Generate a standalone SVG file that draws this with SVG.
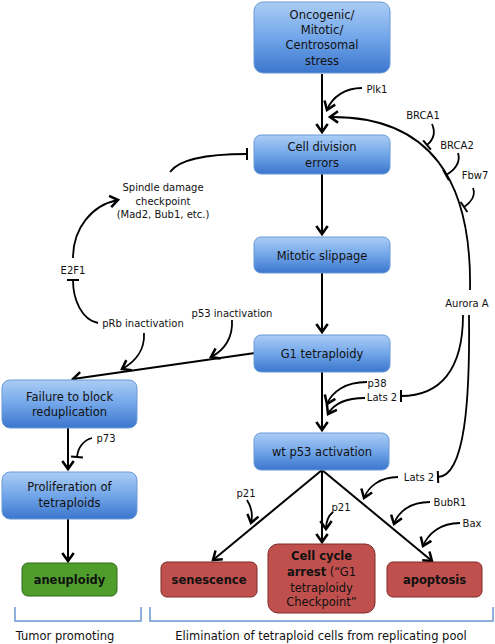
<svg xmlns="http://www.w3.org/2000/svg" width="495" height="644" viewBox="0 0 495 644">
<defs>
<linearGradient id="blue" x1="0" y1="0" x2="0" y2="1">
<stop offset="0" stop-color="#abcdf5"/>
<stop offset="0.5" stop-color="#72a6e9"/>
<stop offset="1" stop-color="#3b76cd"/>
</linearGradient>
<marker id="arr" markerUnits="userSpaceOnUse" orient="auto" refX="0" refY="0" markerWidth="16" markerHeight="16" viewBox="-9 -7 11 14" overflow="visible">
<path d="M -7 -5 L 0 0 L -7 5" fill="none" stroke="#000" stroke-width="2.2"/>
</marker>
<marker id="bar" markerUnits="userSpaceOnUse" orient="auto" refX="0" refY="0" markerWidth="14" markerHeight="14" viewBox="-4 -7 8 14" overflow="visible">
<path d="M 0 -6 L 0 6" fill="none" stroke="#000" stroke-width="2"/>
</marker>
</defs>
<style>
.bx{fill:url(#blue);stroke:#6a9ad6;stroke-width:1}
.red{fill:#c0504d;stroke:#7d2b27;stroke-width:1}
.grn{fill:#4f9e2c;stroke:#2e6b17;stroke-width:1}
text{font-family:"DejaVu Sans","Verdana",sans-serif;fill:#111}
.t{font-size:11.5px;text-anchor:middle}
.b{font-weight:bold}
.s{font-size:10px;text-anchor:middle}
.ln{fill:none;stroke:#000;stroke-width:2}
.cv{fill:none;stroke:#000;stroke-width:1.8}
.a{marker-end:url(#arr)}
.i{marker-end:url(#bar)}
.br{fill:none;stroke:#6b97cf;stroke-width:1.5}
</style>

<g id="connectors">
<path class="ln a" d="M 322 74 L 322 132"/>
<path class="ln a" d="M 322 174 L 322 234"/>
<path class="ln a" d="M 322 273 L 322 332"/>
<path class="ln a" d="M 322 372 L 322 430"/>
<path class="ln a" d="M 68 428 L 68 469"/>
<path class="ln a" d="M 68 519 L 68 561"/>
<path class="ln a" d="M 322 470 L 213 560"/>
<path class="ln a" d="M 322 470 L 322 542"/>
<path class="ln a" d="M 322 470 L 432 561"/>
<path class="ln a" d="M 255 353 L 73 379"/>
<path class="cv a" d="M 362 88 C 345 88 332 97 327 110"/>
<path class="cv a" d="M 470 290 C 472 180 430 116 330 117"/>
<path class="cv i" d="M 432 124 C 436 133 433 140 427 145"/>
<path class="cv i" d="M 458 153 C 461 162 455 170 446 175"/>
<path class="cv i" d="M 473 188 C 476 196 470 203 464 207"/>
<path class="cv i" d="M 463 315 C 463 370 440 396 401 396"/>
<path class="cv i" d="M 469 315 C 470 400 465 476 438 477"/>
<path class="cv a" d="M 367 382 C 345 382 332 392 327 404"/>
<path class="cv a" d="M 365 398 C 345 398 333 405 328 414"/>
<path class="cv i" d="M 92 438 C 84 440 78 447 77 457"/>
<path class="cv i" d="M 170 172 C 180 158 210 154 247 154"/>
<path class="cv a" d="M 73 258 C 73 228 92 205 118 200"/>
<path class="cv i" d="M 98 323 C 82 320 73 300 73 280"/>
<path class="cv a" d="M 144 333 C 145 350 135 362 122 369"/>
<path class="cv a" d="M 232 320 C 233 337 225 350 211 357"/>
<path class="cv a" d="M 247 500 C 252 508 253 515 251 523"/>
<path class="cv a" d="M 333 512 C 328 516 326 522 326 529"/>
<path class="cv a" d="M 398 477 C 380 477 368 487 364 498"/>
<path class="cv a" d="M 430 502 C 410 502 398 512 394 524"/>
<path class="cv a" d="M 460 523 C 440 523 428 534 423 546"/>
</g>

<g id="n-stress"><rect class="bx" x="254" y="2" width="136" height="71" rx="9"/>
<text class="t" x="322" y="19">Oncogenic/</text><text class="t" x="322" y="34">Mitotic/</text><text class="t" x="322" y="49">Centrosomal</text><text class="t" x="322" y="65">stress</text></g>
<g id="n-celldiv"><rect class="bx" x="254" y="135" width="136" height="39" rx="7"/>
<text class="t" x="322" y="151">Cell division</text><text class="t" x="322" y="167">errors</text></g>
<g id="n-slippage"><rect class="bx" x="254" y="237" width="136" height="36" rx="7"/>
<text class="t" x="322" y="260">Mitotic slippage</text></g>
<g id="n-g1"><rect class="bx" x="254" y="335" width="136" height="37" rx="7"/>
<text class="t" x="322" y="358">G1 tetraploidy</text></g>
<g id="n-p53"><rect class="bx" x="254" y="433" width="135" height="37" rx="7"/>
<text class="t" x="322" y="456">wt p53 activation</text></g>
<g id="n-failure"><rect class="bx" x="2" y="380" width="135" height="48" rx="8"/>
<text class="t" x="69.5" y="401">Failure to block</text><text class="t" x="69.5" y="416">reduplication</text></g>
<g id="n-prolif"><rect class="bx" x="2" y="472" width="135" height="47" rx="8"/>
<text class="t" x="69.5" y="491">Proliferation of</text><text class="t" x="69.5" y="507">tetraploids</text></g>
<g id="n-aneuploidy"><rect class="grn" x="22" y="563" width="95" height="33" rx="6"/>
<text class="t b" x="69.5" y="584">aneuploidy</text></g>
<g id="n-senescence"><rect class="red" x="161" y="562" width="96" height="35" rx="6"/>
<text class="t b" x="209" y="584">senescence</text></g>
<g id="n-arrest"><rect class="red" x="268" y="544" width="107" height="69" rx="10"/>
<text class="t" x="321.5" y="560"><tspan class="b">Cell cycle</tspan></text>
<text class="t" x="321.5" y="576"><tspan class="b">arrest</tspan> (“G1</text>
<text class="t" x="321.5" y="592">tetraploidy</text>
<text class="t" x="321.5" y="606">Checkpoint”</text></g>
<g id="n-apoptosis"><rect class="red" x="387" y="562" width="95" height="35" rx="6"/>
<text class="t b" x="434.5" y="584">apoptosis</text></g>

<g id="labels">
<text class="s" x="377" y="93">Plk1</text>
<text class="s" x="423" y="119">BRCA1</text>
<text class="s" x="457" y="149">BRCA2</text>
<text class="s" x="475" y="179">Fbw7</text>
<text class="s" x="467" y="307">Aurora A</text>
<text class="s" x="377" y="387">p38</text>
<text class="s" x="382" y="401">Lats 2</text>
<text class="s" x="419" y="481">Lats 2</text>
<text class="s" x="450" y="506">BubR1</text>
<text class="s" x="472" y="527">Bax</text>
<text class="s" x="246" y="497">p21</text>
<text class="s" x="341" y="511">p21</text>
<text class="s" x="106" y="442">p73</text>
<text class="s" x="73" y="274">E2F1</text>
<text class="s" x="163" y="191">Spindle damage</text>
<text class="s" x="163" y="205">checkpoint</text>
<text class="s" x="163" y="218">(Mad2, Bub1, etc.)</text>
<text class="s" x="143" y="327">pRb inactivation</text>
<text class="s" x="232" y="317">p53 inactivation</text>
</g>

<g id="brackets">
<path class="br" d="M 15 607 L 15 621 L 141 621 L 141 607"/>
<path class="br" d="M 150 607 L 150 621 L 493 621 L 493 607"/>
<text class="t" x="65" y="640">Tumor promoting</text>
<text class="t" x="321" y="640">Elimination of tetraploid cells from replicating pool</text>
</g>
</svg>
